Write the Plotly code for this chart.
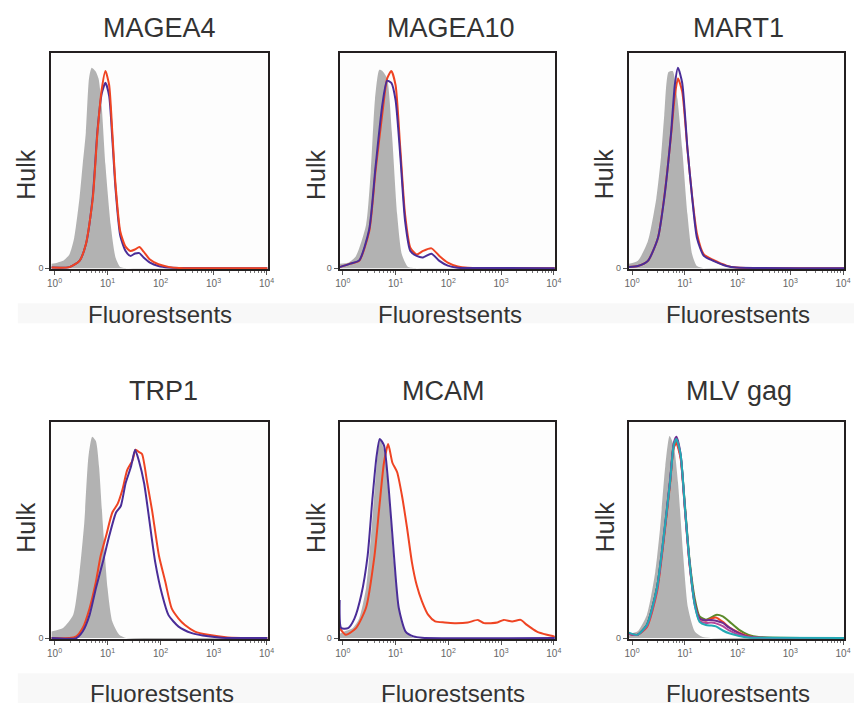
import plotly.graph_objects as go

W, H = 861, 707

# ---------------- data (log10 fluorescence positions, counts as % of max scale) -------------
titles = ["MAGEA4", "MAGEA10", "MART1", "TRP1", "MCAM", "MLV gag"]
tick_vals = [1, 10, 100, 1000, 10000]
tick_text = ["10<sup>0</sup>", "10<sup>1</sup>", "10<sup>2</sup>", "10<sup>3</sup>", "10<sup>4</sup>"]

# MAGEA4
p1_gray_x = [-0.06, 0.05, 0.16, 0.28, 0.37, 0.47, 0.53, 0.59, 0.65, 0.70, 0.77, 0.83, 0.89, 0.96, 1.06, 1.15, 1.24, 1.40, 4.02]
p1_gray_y = [2, 2.5, 3.4, 6.4, 14, 32.5, 48, 63, 88, 93, 91.5, 88, 75, 48, 20, 5, 0.6, 0, 0]
p1_line_x = [-0.06, 0.28, 0.47, 0.59, 0.72, 0.81, 0.89, 0.96, 1.03, 1.09, 1.15, 1.24, 1.34, 1.43, 1.52, 1.60, 1.68, 1.80, 1.96, 2.15, 2.35, 4.02]
p1_red_y = [0.3, 0.5, 3.4, 11, 32, 63, 83, 91.5, 85, 63, 39, 17, 10, 8, 8.7, 9.8, 7.7, 4, 1.8, 0.6, 0.1, 0]
p1_blue_y = [0.3, 0.5, 3.4, 11, 33, 64, 81, 86, 80, 60, 37, 15, 8, 5.7, 6.8, 7, 5, 2.6, 1.0, 0.3, 0.1, 0]

# MAGEA10
p2_gray_x = [-0.06, 0.10, 0.25, 0.44, 0.53, 0.61, 0.69, 0.75, 0.84, 0.93, 1.03, 1.12, 1.24, 1.40, 4.02]
p2_gray_y = [2, 2.5, 5.7, 20, 45, 78.5, 92, 91.5, 88, 63, 25, 6.4, 0.5, 0, 0]
p2_line_x = [-0.06, 0.13, 0.31, 0.50, 0.62, 0.75, 0.84, 0.92, 1.00, 1.09, 1.18, 1.28, 1.40, 1.52, 1.68, 1.83, 1.99, 2.18, 2.37, 4.02]
p2_red_y = [0.5, 2, 3.4, 17, 45, 72, 88, 91.5, 85, 55.5, 25, 9.5, 6.4, 8, 9.2, 5.7, 2.6, 0.8, 0.2, 0]
p2_blue_y = [0.5, 2, 3.6, 18, 47, 76, 87, 86, 78, 52, 22, 8, 5.7, 5, 6.7, 3.4, 1.2, 0.2, 0.1, 0]

# MART1
p3_gray_x = [-0.06, 0.11, 0.30, 0.46, 0.55, 0.61, 0.69, 0.77, 0.86, 0.95, 1.05, 1.14, 1.23, 1.36, 4.02]
p3_gray_y = [2, 3.4, 12.6, 32.5, 52, 71, 91, 91.5, 78.5, 55.5, 25, 6.4, 1, 0, 0]
p3_line_x = [-0.06, 0.11, 0.30, 0.49, 0.61, 0.74, 0.81, 0.87, 0.95, 1.05, 1.14, 1.23, 1.36, 1.54, 1.79, 1.98, 4.02]
p3_red_y = [0.5, 1, 3.4, 14, 33, 62, 80, 88, 82, 55, 33, 16, 6.4, 3.8, 1.2, 0.3, 0]
p3_blue_y = [0.5, 1, 3.4, 14, 32.5, 63, 85, 93, 86, 55.5, 32.5, 14, 5.7, 3.4, 1, 0.3, 0]

# TRP1
p4_gray_x = [-0.06, 0.16, 0.35, 0.47, 0.56, 0.64, 0.71, 0.78, 0.84, 0.91, 1.00, 1.09, 1.22, 1.35, 4.02]
p4_gray_y = [3, 4.6, 10.6, 30, 53, 84, 93, 91, 79, 53, 23, 7.6, 1.5, 0, 0]
p4_red_x = [-0.06, 0.28, 0.41, 0.53, 0.66, 0.78, 0.87, 0.97, 1.09, 1.19, 1.28, 1.37, 1.47, 1.53, 1.59, 1.65, 1.75, 1.84, 1.97, 2.09, 2.21, 2.34, 2.46, 2.65, 2.90, 3.27, 4.02]
p4_red_y = [0, 0, 0.8, 4.6, 13.7, 26, 38, 47, 58, 62, 68.5, 77.6, 82, 87, 86, 85, 71.5, 59, 38, 26, 13.7, 9, 6, 3, 1.5, 0.3, 0]
p4_blue_x = [-0.06, 0.41, 0.53, 0.66, 0.78, 0.91, 1.03, 1.16, 1.25, 1.34, 1.44, 1.52, 1.59, 1.69, 1.78, 1.90, 2.03, 2.15, 2.34, 2.59, 2.90, 3.15, 4.02]
p4_blue_y = [0, 0, 3, 10.6, 23, 35, 47, 58, 61, 71.5, 79, 87, 82, 71.5, 56, 35, 20, 10.6, 5.3, 2.3, 0.8, 0.2, 0]

# MCAM
p5_gray_x = [-0.06, 0.03, 0.19, 0.31, 0.44, 0.53, 0.63, 0.70, 0.78, 0.87, 0.97, 1.06, 1.19, 1.31, 1.45, 4.02]
p5_gray_y = [2, 3, 4.6, 9, 23, 46, 76.5, 92, 87, 66, 35, 14, 3, 0.5, 0, 0]
p5_blue_x = [-0.06, -0.03, 0.10, 0.22, 0.35, 0.47, 0.56, 0.64, 0.70, 0.78, 0.87, 0.97, 1.06, 1.19, 1.34, 1.50, 4.02]
p5_blue_y = [17.6, 4.6, 4.6, 9, 20, 38, 64, 84, 92, 89, 69, 38, 14, 3, 0.8, 0.2, 0]
p5_red_x = [-0.06, 0.06, 0.25, 0.44, 0.60, 0.69, 0.78, 0.86, 0.94, 1.03, 1.12, 1.22, 1.31, 1.40, 1.50, 1.62, 1.75, 1.93, 2.12, 2.37, 2.56, 2.68, 2.93, 3.05, 3.21, 3.37, 3.49, 3.68, 3.87, 4.00, 4.02]
p5_red_y = [4.6, 1.5, 4.6, 14, 38, 60, 81, 89.6, 81, 76.6, 66, 50.5, 35, 24.5, 17, 10.7, 7.7, 7.2, 6.9, 7.2, 8.4, 6.9, 7.2, 8.4, 7.7, 8.4, 6.1, 3, 1.5, 0.8, 0.5]

# MLV gag
p6_gray_x = [-0.06, 0.10, 0.28, 0.44, 0.53, 0.63, 0.71, 0.79, 0.87, 0.97, 1.06, 1.19, 1.34, 4.02]
p6_gray_y = [2, 3, 10.7, 30.6, 50.5, 79.6, 93.4, 89, 72, 38, 14, 3, 0.5, 0]
p6_line_x = [-0.06, 0.10, 0.28, 0.47, 0.59, 0.72, 0.79, 0.84, 0.92, 1.00, 1.09, 1.19, 1.28, 1.40, 1.50, 1.59, 1.72, 1.84, 2.03, 2.21, 2.40, 4.02]
p6_green_y = [2, 1.5, 6, 23, 44, 72, 89, 91, 84, 62, 36, 18, 10, 8.5, 9.5, 10.7, 10, 7.7, 3.8, 1.5, 0.5, 0]
p6_red_y = [2, 1.5, 5, 21, 43, 71, 88, 90, 83, 60, 34, 16, 9, 8, 9, 9.5, 7.5, 5, 2.5, 0.8, 0.2, 0]
p6_purple_y = [2, 1.5, 6, 23, 45, 73, 90, 93, 85, 61, 35, 16, 9, 8.2, 8.4, 8, 7, 4.8, 2.2, 0.6, 0.2, 0]
p6_magenta_y = [2, 1.5, 5.5, 22, 44, 72, 89, 92, 84, 60, 34, 15, 8, 7, 7.2, 6.8, 5.5, 3.5, 1.5, 0.4, 0.1, 0]
p6_cyan_y = [2.5, 1.5, 6, 23, 45, 72, 89, 92, 85, 61, 35, 15, 7.5, 6, 5.8, 5.4, 3.5, 2.2, 1.0, 0.3, 0.1, 0]

# ---------------- styling ----------------
GRAY = "#b2b2b2"
RED = "#ef4423"
BLUE = "#4a2d98"
GREEN = "#5b8a2a"
PURPLE = "#6d2c91"
MAGENTA = "#b4479c"
CYAN = "#23a8b4"
TXT = "#333333"
FONT = "Liberation Sans, Arial, sans-serif"

def fx(v):
    return [10 ** a for a in v]

panels = [
    [(p1_gray_x, p1_gray_y, None), (p1_line_x, p1_blue_y, BLUE), (p1_line_x, p1_red_y, RED)],
    [(p2_gray_x, p2_gray_y, None), (p2_line_x, p2_red_y, RED), (p2_line_x, p2_blue_y, BLUE)],
    [(p3_gray_x, p3_gray_y, None), (p3_line_x, p3_red_y, RED), (p3_line_x, p3_blue_y, BLUE)],
    [(p4_gray_x, p4_gray_y, None), (p4_red_x, p4_red_y, RED), (p4_blue_x, p4_blue_y, BLUE)],
    [(p5_gray_x, p5_gray_y, None), (p5_red_x, p5_red_y, RED), (p5_blue_x, p5_blue_y, BLUE)],
    [(p6_gray_x, p6_gray_y, None), (p6_line_x, p6_green_y, GREEN), (p6_line_x, p6_red_y, RED),
     (p6_line_x, p6_purple_y, PURPLE), (p6_line_x, p6_magenta_y, MAGENTA), (p6_line_x, p6_cyan_y, CYAN)],
]

# plot boxes in pixels (left, right, top, bottom)
boxes = [(48, 267, 53, 271), (340, 558, 53, 271), (633, 851, 53, 271),
         (48, 267, 424, 643), (340, 558, 424, 643), (633, 851, 424, 643)]
title_pos = [(158, 28), (453, 28), (744, 28), (162, 393), (445, 393), (745, 393)]
ytitle_pos = [(22, 175), (316, 175), (608, 175), (22, 530), (316, 530), (609, 530)]
xtitle_pos = [(158, 316), (452, 316), (744, 316), (160, 697), (455, 697), (743, 697)]

minor_vals = [m * 10 ** d for d in range(4) for m in range(2, 10)]

fig = go.Figure()
layout = dict(
    width=W, height=H, margin=dict(l=0, r=0, t=0, b=0),
    paper_bgcolor="white", plot_bgcolor="#fdfdfd", showlegend=False,
    font=dict(family=FONT, color=TXT),
    annotations=[], shapes=[],
)

# faint bands behind axis titles
layout["shapes"].append(dict(type="rect", xref="paper", yref="paper",
                             x0=14 / W, x1=1, y0=1 - 325 / H, y1=1 - 305 / H,
                             fillcolor="#f8f8f8", line=dict(width=0), layer="below"))
layout["shapes"].append(dict(type="rect", xref="paper", yref="paper",
                             x0=14 / W, x1=1, y0=0, y1=1 - 677 / H,
                             fillcolor="#f8f8f8", line=dict(width=0), layer="below"))

for i, traces in enumerate(panels):
    n = "" if i == 0 else str(i + 1)
    xa, ya = "x" + n, "y" + n
    for j, (xs, ys, col) in enumerate(traces):
        if col is None:
            fig.add_trace(go.Scatter(x=fx(xs), y=ys, xaxis=xa, yaxis=ya, mode="lines",
                                     line=dict(width=0, color=GRAY, shape="spline", smoothing=0.6),
                                     fill="tozeroy", fillcolor=GRAY, hoverinfo="skip"))
        else:
            fig.add_trace(go.Scatter(x=fx(xs), y=ys, xaxis=xa, yaxis=ya, mode="lines",
                                     line=dict(width=2, color=col, shape="spline", smoothing=0.6),
                                     hoverinfo="skip"))
    l, r, t, b = boxes[i]
    layout["xaxis" + n] = dict(
        type="log", range=[-0.06, 4.02], domain=[l / W, r / W], anchor=ya,
        showline=True, linecolor="#231f20", linewidth=2, mirror=True,
        showgrid=False, zeroline=False,
        tickmode="array", tickvals=tick_vals, ticktext=tick_text,
        ticks="outside", ticklen=4, tickwidth=1, tickcolor="#555",
        tickfont=dict(size=10, color="#666", family=FONT),
        minor=dict(tickmode="array", tickvals=minor_vals, ticks="outside", ticklen=2,
                   tickwidth=1, tickcolor="#777", showgrid=False),
        fixedrange=True,
    )
    layout["yaxis" + n] = dict(
        range=[-0.6, 100], domain=[1 - b / H, 1 - t / H], anchor=xa,
        showline=True, linecolor="#231f20", linewidth=2, mirror=True,
        showgrid=False, zeroline=False,
        tickmode="array", tickvals=[0], ticktext=["0"],
        ticks="outside", ticklen=4, tickcolor="#555",
        tickfont=dict(size=9, color="#666", family=FONT),
        fixedrange=True,
    )
    tx, ty = title_pos[i]
    layout["annotations"].append(dict(text=titles[i], x=tx / W, y=1 - ty / H, xref="paper", yref="paper",
                                      showarrow=False, xanchor="center", yanchor="middle",
                                      font=dict(size=27, color=TXT, family=FONT)))
    hx, hy = ytitle_pos[i]
    layout["annotations"].append(dict(text="Hulk", x=hx / W, y=1 - hy / H, xref="paper", yref="paper",
                                      showarrow=False, xanchor="center", yanchor="middle", textangle=-90,
                                      font=dict(size=25, color=TXT, family=FONT)))
    fx_, fy_ = xtitle_pos[i]
    layout["annotations"].append(dict(text="Fluorestsents", x=fx_ / W, y=1 - fy_ / H, xref="paper", yref="paper",
                                      showarrow=False, xanchor="center", yanchor="middle",
                                      font=dict(size=24, color=TXT, family=FONT)))

fig.update_layout(**layout)
fig.write_html("out.html", config={"displayModeBar": False},
               post_script="document.body.style.margin='0px';document.body.style.overflow='hidden';")
